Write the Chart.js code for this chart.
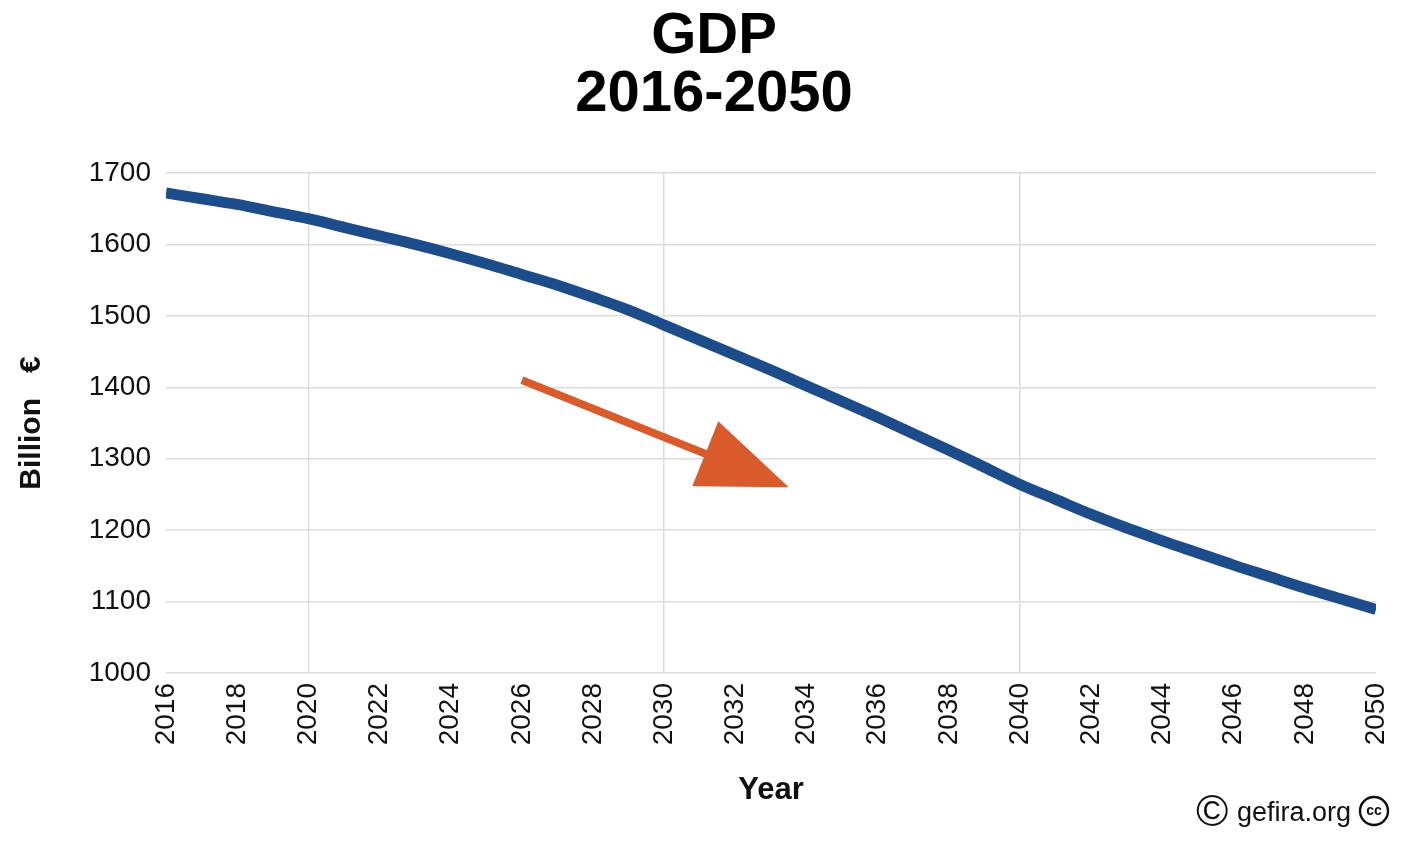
<!DOCTYPE html>
<html>
<head>
<meta charset="utf-8">
<script src="https://cdn.jsdelivr.net/npm/chart.js@4"></script>
<style>
  body { margin: 0; background: #fff; }
  #wrap { width: 1404px; height: 842px; position: relative; }
</style>
</head>
<body>
<div id="wrap"><canvas id="gdpChart"></canvas></div>
<script>
// GDP projection, billion euro
const years = [2016, 2017, 2018, 2019, 2020, 2021, 2022, 2023, 2024, 2025,
  2026, 2027, 2028, 2029, 2030, 2031, 2032, 2033, 2034, 2035,
  2036, 2037, 2038, 2039, 2040, 2041, 2042, 2043, 2044, 2045,
  2046, 2047, 2048, 2049, 2050];
const gdp = [1672, 1664, 1656, 1646, 1636, 1624, 1612, 1600, 1587, 1573,
  1558, 1543, 1526, 1508, 1487, 1466, 1445, 1424, 1402, 1380,
  1358, 1335, 1312, 1288, 1264, 1243, 1222, 1203, 1185, 1168,
  1151, 1135, 1119, 1104, 1089];

const titleLines = ["GDP", "2016-2050"];
const yTicks = [1000, 1100, 1200, 1300, 1400, 1500, 1600, 1700];
const xGridYears = [2020, 2030, 2040];

// trend arrow, in data units (year, value)
const arrowFrom = [2026, 1410];
const arrowTo = [2033.5, 1260];

const FONT = "'Liberation Sans', Arial, sans-serif";

// two-line title, centred a bit right of the canvas middle like the original
const titlePlugin = {
  id: "bigTitle",
  afterDraw(chart) {
    const ctx = chart.ctx;
    ctx.save();
    ctx.fillStyle = "#000";
    ctx.textAlign = "center";
    ctx.textBaseline = "middle";
    ctx.font = "bold 58px " + FONT;
    ctx.fillText(titleLines[0], 714, 37);
    ctx.fillText(titleLines[1], 714, 95);
    ctx.restore();
  }
};

const arrowPlugin = {
  id: "trendArrow",
  afterDatasetsDraw(chart) {
    const { ctx, scales: { x, y } } = chart;
    const x0 = x.getPixelForValue(arrowFrom[0]), y0 = y.getPixelForValue(arrowFrom[1]);
    const x1 = x.getPixelForValue(arrowTo[0]), y1 = y.getPixelForValue(arrowTo[1]);
    const ang = Math.atan2(y1 - y0, x1 - x0);
    const headLen = 90, headHalf = 35;
    const bx = x1 - headLen * Math.cos(ang), by = y1 - headLen * Math.sin(ang);
    ctx.save();
    ctx.strokeStyle = "#d95a2b";
    ctx.fillStyle = "#d95a2b";
    ctx.lineWidth = 8;
    ctx.beginPath();
    ctx.moveTo(x0, y0);
    ctx.lineTo(bx + 5 * Math.cos(ang), by + 5 * Math.sin(ang));
    ctx.stroke();
    ctx.beginPath();
    ctx.moveTo(x1, y1);
    ctx.lineTo(bx - headHalf * Math.sin(ang), by + headHalf * Math.cos(ang));
    ctx.lineTo(bx + headHalf * Math.sin(ang), by - headHalf * Math.cos(ang));
    ctx.closePath();
    ctx.fill();
    ctx.restore();
  }
};

// little credit line at the bottom right
const creditPlugin = {
  id: "credit",
  afterDraw(chart) {
    const ctx = chart.ctx;
    const w = chart.width, h = chart.height;
    const cy = h - 30;
    ctx.save();
    ctx.fillStyle = "#111";
    ctx.strokeStyle = "#111";
    ctx.textBaseline = "middle";
    ctx.textAlign = "left";
    ctx.font = "44px " + FONT;
    ctx.fillText("©", w - 208, cy + 2);
    ctx.font = "27px " + FONT;
    ctx.fillText("gefira.org", w - 167, cy + 2);
    ctx.lineWidth = 2.4;
    ctx.beginPath();
    ctx.arc(w - 30, cy - 1, 14, 0, Math.PI * 2);
    ctx.stroke();
    ctx.font = "bold 14px " + FONT;
    ctx.textAlign = "center";
    ctx.fillText("cc", w - 30, cy - 1);
    ctx.restore();
  }
};

new Chart(document.getElementById("gdpChart"), {
  type: "line",
  data: {
    datasets: [{
      label: "GDP",
      data: years.map((yr, i) => ({ x: yr, y: gdp[i] })),
      borderColor: "#1d4c8a",
      borderWidth: 11,
      borderCapStyle: "butt",
      pointRadius: 0,
      cubicInterpolationMode: "monotone",
      fill: false
    }]
  },
  options: {
    responsive: true,
    maintainAspectRatio: false,
    animation: false,
    layout: { padding: { left: 0, right: 28, top: 173, bottom: 0 } },
    plugins: {
      legend: { display: false },
      tooltip: { enabled: false },
      title: { display: false }
    },
    scales: {
      x: {
        type: "linear",
        min: 2016,
        max: 2050,
        afterFit(scale) {
          scale.height = 169;
          // the last rotated label fits inside the right margin
          scale.paddingRight = 0;
          scale.paddingLeft = 0;
        },
        border: { display: false },
        grid: {
          drawTicks: false,
          lineWidth: 1.5,
          color: c => xGridYears.includes(c.tick && c.tick.value) ? "#dcdcdc" : "rgba(0,0,0,0)"
        },
        ticks: {
          stepSize: 2,
          autoSkip: false,
          maxRotation: 90,
          minRotation: 90,
          padding: 10,
          color: "#111",
          font: { family: FONT, size: 28 },
          callback: v => String(v)
        },
        title: {
          display: true,
          text: "Year",
          color: "#111",
          font: { family: FONT, size: 31, weight: "bold" },
          padding: { top: 0, bottom: 33 }
        }
      },
      y: {
        min: 1000,
        max: 1700,
        afterFit(scale) { scale.width = 166; },
        afterBuildTicks(scale) { scale.ticks = yTicks.map(v => ({ value: v })); },
        border: { display: false },
        grid: { drawTicks: false, lineWidth: 1.5, color: "#dcdcdc" },
        ticks: {
          padding: 15,
          color: "#111",
          font: { family: FONT, size: 28 },
          callback: v => String(v)
        },
        title: {
          display: true,
          text: "Billion   €",
          color: "#111",
          font: { family: FONT, size: 30, weight: "bold" },
          padding: { top: 14, bottom: 0 }
        }
      }
    }
  },
  plugins: [titlePlugin, arrowPlugin, creditPlugin]
});
</script>
</body>
</html>
